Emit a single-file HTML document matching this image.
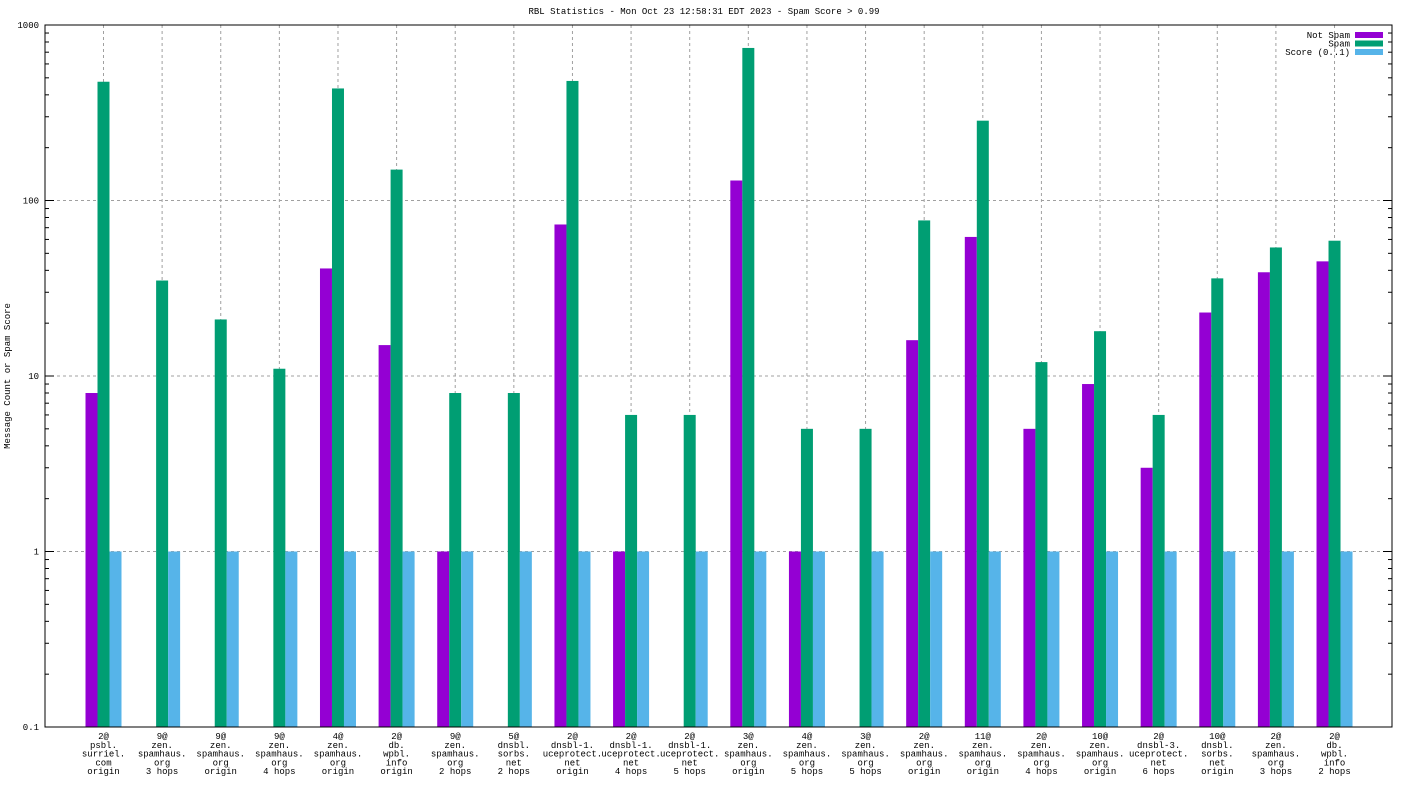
<!DOCTYPE html>
<html><head><meta charset="utf-8"><style>
html,body{margin:0;padding:0;background:#fff;width:1408px;height:792px;overflow:hidden}
text{font-family:"Liberation Mono","DejaVu Sans Mono",monospace;font-size:9px;fill:#000}
</style></head><body>
<svg id="chart" width="1408" height="792" xmlns="http://www.w3.org/2000/svg"></svg>
<script>
const categories=[["2@","psbl.","surriel.","com","origin"],["9@","zen.","spamhaus.","org","3 hops"],["9@","zen.","spamhaus.","org","origin"],["9@","zen.","spamhaus.","org","4 hops"],["4@","zen.","spamhaus.","org","origin"],["2@","db.","wpbl.","info","origin"],["9@","zen.","spamhaus.","org","2 hops"],["5@","dnsbl.","sorbs.","net","2 hops"],["2@","dnsbl-1.","uceprotect.","net","origin"],["2@","dnsbl-1.","uceprotect.","net","4 hops"],["2@","dnsbl-1.","uceprotect.","net","5 hops"],["3@","zen.","spamhaus.","org","origin"],["4@","zen.","spamhaus.","org","5 hops"],["3@","zen.","spamhaus.","org","5 hops"],["2@","zen.","spamhaus.","org","origin"],["11@","zen.","spamhaus.","org","origin"],["2@","zen.","spamhaus.","org","4 hops"],["10@","zen.","spamhaus.","org","origin"],["2@","dnsbl-3.","uceprotect.","net","6 hops"],["10@","dnsbl.","sorbs.","net","origin"],["2@","zen.","spamhaus.","org","3 hops"],["2@","db.","wpbl.","info","2 hops"]];
const notSpam=[8,0,0,0,41,15,1,0,73,1,0,130,1,0,16,62,5,9,3,23,39,45];
const spam=[475,35,21,11,435,150,8,8,480,6,6,740,5,5,77,285,12,18,6,36,54,59];
const score=[1,1,1,1,1,1,1,1,1,1,1,1,1,1,1,1,1,1,1,1,1,1];
const yTicks=[0.1,1,10,100,1000];
const yTickLabels=["0.1","1","10","100","1000"];

const NS="http://www.w3.org/2000/svg";
const svg=document.getElementById('chart');
const L=45,R=1392,T=25,B=727;
const ymin=0.1,ymax=1000;
function y(v){return B-(Math.log10(v)-Math.log10(ymin))/(Math.log10(ymax)-Math.log10(ymin))*(B-T);}
function x(i){return 103.5+i*58.62;}
function el(tag,attrs,parent){const e=document.createElementNS(NS,tag);for(const k in attrs)e.setAttribute(k,attrs[k]);(parent||svg).appendChild(e);return e;}

const t=el('text',{x:704,y:14,'text-anchor':'middle'});


t.textContent="RBL Statistics - Mon Oct 23 12:58:31 EDT 2023 - Spam Score > 0.99";

const yt=el('text',{x:0,y:0,'text-anchor':'middle',transform:'translate(10,376) rotate(-90)'});


yt.textContent="Message Count or Spam Score";

yTicks.forEach((v,k)=>{
  const yy=y(v);
  if(k>0&&k<yTicks.length-1){const g=el('line',{x1:L,x2:R,y1:yy,y2:yy,stroke:'#a0a0a0','stroke-dasharray':'3,3','stroke-width':1});
  }
  el('line',{x1:L,x2:L+9,y1:yy,y2:yy,stroke:'#000'});
  el('line',{x1:R-9,x2:R,y1:yy,y2:yy,stroke:'#000'});
  const lb=el('text',{x:L-6,y:yy+3,'text-anchor':'end'});
  
  
  lb.textContent=yTickLabels[k];
  if(k<yTicks.length-1){for(let m=2;m<10;m++){const my=y(v*m);
    el('line',{x1:L,x2:L+4,y1:my,y2:my,stroke:'#000'});el('line',{x1:R-4,x2:R,y1:my,y2:my,stroke:'#000'});}}
});
categories.forEach((c,i)=>{
  const xx=x(i);
  const g=el('line',{x1:xx,x2:xx,y1:T,y2:B,stroke:'#a0a0a0','stroke-dasharray':'3,3'});
  
  const tx=el('text',{x:xx,y:739,'text-anchor':'middle'});
  
  
  c.forEach((s,j)=>{const ts=el('tspan',{x:xx,dy:j?8.8:0},tx);ts.textContent=s;});
});
const series=[[notSpam,'#9400d3',-12,'bar-not-spam'],[spam,'#009e73',0,'bar-spam'],[score,'#56b4e9',12,'bar-score']];
series.forEach(([arr,col,off,nm])=>{
  arr.forEach((v,i)=>{
    if(v<=0)return;
    const top=y(v);
    const r=el('rect',{x:x(i)+off-6,y:top,width:12,height:B-top,fill:col});
    
    
  });
});
el('rect',{x:L,y:T,width:R-L,height:B-T,fill:'none',stroke:'#000','stroke-width':1});
const leg=[['Not Spam','#9400d3'],['Spam','#009e73'],['Score (0..1)','#56b4e9']];
leg.forEach(([lab,col],k)=>{
  const ly=35+k*8.5;
  const lt=el('text',{x:1350,y:ly+3,'text-anchor':'end'});
  
  
  lt.textContent=lab;
  const sw=el('rect',{x:1355,y:ly-3,width:28,height:6,fill:col});
  
  
});
</script>
</body></html>
